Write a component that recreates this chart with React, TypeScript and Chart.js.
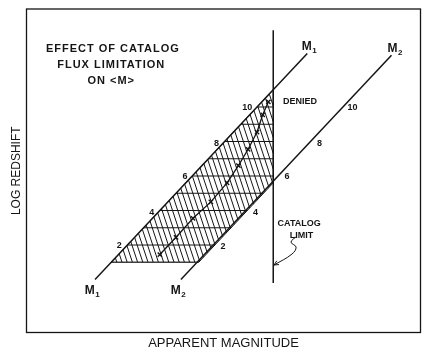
import { useEffect, useRef } from 'react';
import { Chart, registerables } from 'chart.js';

Chart.register(...registerables);

// ---- data (schematic units: x = apparent magnitude, y = log redshift level) ----
const M1_X = [0, 13.1];
const M1_Y = [0, 13.1];
const M2_X = [5.3, 18.3];
const M2_Y = [0, 13.0];
const LIMIT_X = [11, 11];
const LIMIT_Y = [-0.2, 14.45];
const HATCH_X = [1, 6.4, 11, 11, 1];
const HATCH_Y = [1, 1, 5.6, 11, 1];
const HATCH_LEVELS = [1, 2, 3, 4, 5, 6, 7, 8, 9, 10];
const MEAN_X = [4.0, 5.0, 6.05, 7.15, 8.15, 8.85, 9.45, 10.0, 10.35, 10.7];
const MEAN_Y = [1.45, 2.45, 3.55, 4.5, 5.6, 6.6, 7.55, 8.55, 9.55, 10.3];
const LEVEL_LABELS = ['2', '4', '6', '8', '10'];
const M1_LABEL_X = [1.5, 3.5, 5.55, 7.5, 9.4];
const M1_LABEL_Y = [2.0, 3.9, 5.95, 7.9, 9.95];
const M2_LABEL_X = [7.9, 9.9, 11.85, 13.85, 15.9];
const M2_LABEL_Y = [1.9, 3.9, 5.95, 7.9, 9.95];
const ARROW_X = [12.47, 12.1, 12.41, 12.16, 11.05];
const ARROW_Y = [2.52, 2.17, 1.88, 1.48, 0.84];

const INK = '#151515';
const FONT = "'Liberation Sans', Arial, sans-serif";

const TEXTS = [
  { text: 'EFFECT OF CATALOG', x: 1.1, y: 13.36, size: 11 },
  { text: 'FLUX LIMITATION', x: 1.0, y: 12.43, size: 11 },
  { text: 'ON <M>', x: 1.0, y: 11.5, size: 11 },
  { text: 'DENIED', x: 12.65, y: 10.3, size: 9 },
  { text: 'CATALOG', x: 12.6, y: 3.25, size: 9 },
  { text: 'LIMIT', x: 12.75, y: 2.55, size: 9 },
];
const M_LABELS = [
  { sub: '1', x: -0.19, y: -0.67 },
  { sub: '1', x: 13.2, y: 13.48 },
  { sub: '2', x: 5.12, y: -0.67 },
  { sub: '2', x: 18.5, y: 13.4 },
];

const pts = (xs: number[], ys: number[]) => xs.map((v, i) => ({ x: v, y: ys[i] }));

const schematicPlugin = {
  id: 'schematic',
  beforeDatasetsDraw(chart: any) {
    const { ctx, scales } = chart;
    const sx = scales.x, sy = scales.y;
    ctx.save();
    ctx.beginPath();
    HATCH_X.forEach((v, i) => {
      const px = sx.getPixelForValue(v);
      const py = sy.getPixelForValue(HATCH_Y[i]);
      if (i === 0) ctx.moveTo(px, py); else ctx.lineTo(px, py);
    });
    ctx.closePath();
    ctx.clip();
    ctx.strokeStyle = INK;
    ctx.lineWidth = 1;
    const left = sx.getPixelForValue(Math.min(...HATCH_X));
    const right = sx.getPixelForValue(Math.max(...HATCH_X));
    const top = sy.getPixelForValue(Math.max(...HATCH_Y));
    const bottom = sy.getPixelForValue(Math.min(...HATCH_Y));
    HATCH_LEVELS.forEach((l) => {
      const py = sy.getPixelForValue(l);
      ctx.beginPath();
      ctx.moveTo(left - 2, py);
      ctx.lineTo(right + 2, py);
      ctx.stroke();
    });
    const slant = (bottom - top) * 0.33;
    for (let px = left - slant - 10; px < right + 10; px += 5.2) {
      ctx.beginPath();
      ctx.moveTo(px, top);
      ctx.lineTo(px + slant, bottom);
      ctx.stroke();
    }
    ctx.restore();
  },
  afterDatasetsDraw(chart: any) {
    const { ctx, scales, chartArea } = chart;
    const sx = scales.x, sy = scales.y;
    ctx.save();
    // frame
    ctx.strokeStyle = INK;
    ctx.lineWidth = 1.3;
    ctx.strokeRect(chartArea.left, chartArea.top, chartArea.right - chartArea.left, chartArea.bottom - chartArea.top);
    // text
    ctx.fillStyle = INK;
    ctx.textAlign = 'center';
    ctx.textBaseline = 'middle';
    TEXTS.forEach((t) => {
      ctx.font = `bold ${t.size}px ${FONT}`;
      (ctx as any).letterSpacing = t.size > 10 ? '1px' : '0px';
      ctx.fillText(t.text, sx.getPixelForValue(t.x), sy.getPixelForValue(t.y));
    });
    (ctx as any).letterSpacing = '0px';
    ctx.font = `bold 9px ${FONT}`;
    LEVEL_LABELS.forEach((lab, i) => {
      ctx.fillText(lab, sx.getPixelForValue(M1_LABEL_X[i]), sy.getPixelForValue(M1_LABEL_Y[i]));
      ctx.fillText(lab, sx.getPixelForValue(M2_LABEL_X[i]), sy.getPixelForValue(M2_LABEL_Y[i]));
    });
    // M labels with subscripts
    M_LABELS.forEach((m) => {
      const cx = sx.getPixelForValue(m.x);
      const cy = sy.getPixelForValue(m.y);
      ctx.font = `bold 12px ${FONT}`;
      const wM = ctx.measureText('M').width;
      ctx.font = `bold 8px ${FONT}`;
      const wS = ctx.measureText(m.sub).width;
      const x0 = cx - (wM + wS) / 2;
      ctx.textAlign = 'left';
      ctx.font = `bold 12px ${FONT}`;
      ctx.fillText('M', x0, cy);
      ctx.font = `bold 8px ${FONT}`;
      ctx.fillText(m.sub, x0 + wM + 0.5, cy + 4);
      ctx.textAlign = 'center';
    });
    // arrow head for catalog-limit pointer
    const n = ARROW_X.length;
    const ex = sx.getPixelForValue(ARROW_X[n - 1]);
    const ey = sy.getPixelForValue(ARROW_Y[n - 1]);
    const bx = sx.getPixelForValue(ARROW_X[n - 2]);
    const by = sy.getPixelForValue(ARROW_Y[n - 2]);
    const ang = Math.atan2(ey - by, ex - bx);
    ctx.strokeStyle = INK;
    ctx.lineWidth = 1;
    ctx.beginPath();
    ctx.moveTo(ex - 5 * Math.cos(ang - 0.45), ey - 5 * Math.sin(ang - 0.45));
    ctx.lineTo(ex, ey);
    ctx.lineTo(ex - 5 * Math.cos(ang + 0.45), ey - 5 * Math.sin(ang + 0.45));
    ctx.stroke();
    ctx.restore();
  },
};

export default function App() {
  const ref = useRef<HTMLCanvasElement>(null);
  useEffect(() => {
    if (!ref.current) return;
    const line = (data: any[], width: number, extra: any = {}) => ({
      data,
      showLine: true,
      borderColor: INK,
      backgroundColor: INK,
      borderWidth: width,
      pointRadius: 0,
      fill: false,
      ...extra,
    });
    const chart = new Chart(ref.current, {
      type: 'scatter',
      data: {
        datasets: [
          line(pts(HATCH_X, HATCH_Y), 1),
          line(pts(M1_X, M1_Y), 1.5),
          line(pts(M2_X, M2_Y), 1.5),
          line(pts(LIMIT_X, LIMIT_Y), 1.5),
          line(pts(MEAN_X, MEAN_Y), 1.3, {
            pointStyle: 'crossRot',
            pointRadius: 3,
            pointBorderWidth: 1.4,
            pointBorderColor: INK,
          }),
          line(pts(ARROW_X, ARROW_Y), 1, { tension: 0.4 }),
        ],
      },
      options: {
        animation: false,
        responsive: false,
        layout: { padding: { left: 5.8, right: 11.5, top: 9, bottom: 1.2 } },
        plugins: { legend: { display: false }, tooltip: { enabled: false } },
        scales: {
          x: {
            type: 'linear',
            min: -4.23,
            max: 20.09,
            ticks: { display: false },
            grid: { display: false, drawTicks: false },
            border: { display: false },
            title: {
              display: true,
              text: 'APPARENT MAGNITUDE',
              color: INK,
              font: { family: FONT, size: 13 },
              padding: { top: 2.7, bottom: 4 },
            },
          },
          y: {
            type: 'linear',
            min: -3.07,
            max: 15.68,
            ticks: { display: false },
            grid: { display: false, drawTicks: false },
            border: { display: false },
            title: {
              display: true,
              text: 'LOG REDSHIFT',
              color: INK,
              font: { family: FONT, size: 12 },
              padding: { top: 4, bottom: 2.3 },
            },
          },
        },
      },
      plugins: [schematicPlugin],
    });
    return () => chart.destroy();
  }, []);
  return (
    <div style={{ position: 'fixed', left: 0, top: 0, width: 432, height: 356, background: '#fff' }}>
      <canvas ref={ref} width={432} height={356} style={{ display: 'block' }} />
    </div>
  );
}
